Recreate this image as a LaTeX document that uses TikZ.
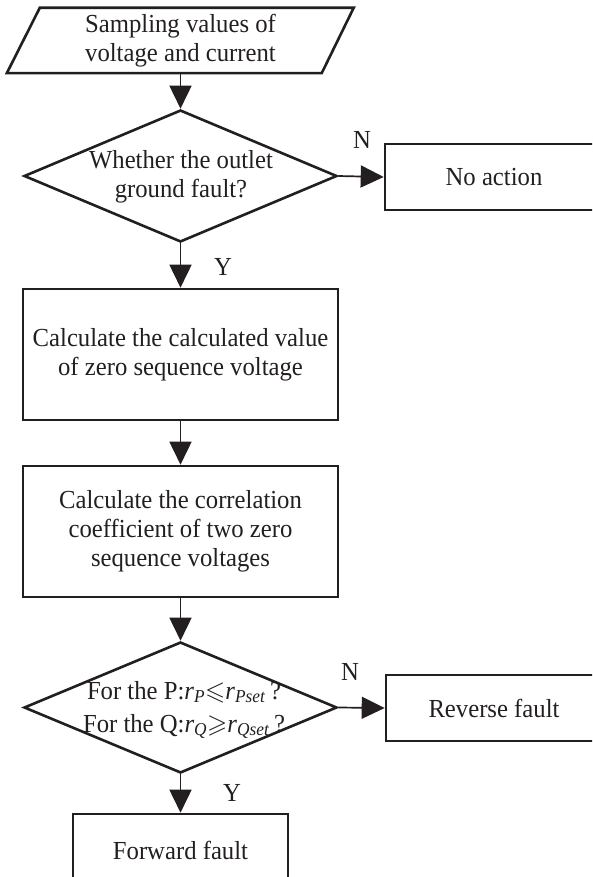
\documentclass[tikz,border=0pt]{standalone}
\usepackage{fontspec}
\setmainfont{Liberation Serif}[FakeStretch=0.95]
\usepackage{amssymb}
\usetikzlibrary{shapes.geometric,arrows.meta}
\definecolor{ink}{HTML}{231F20}
\begin{document}
\begin{tikzpicture}[x=1pt,y=-1pt,
  every node/.style={text=ink,font=\fontsize{26}{29}\selectfont},
  procbox/.style={draw=ink,line width=2.6pt,rectangle,inner sep=0pt,align=center},
  decision/.style={draw=ink,line width=2.6pt,diamond,inner sep=0pt,
                   minimum width=313pt,minimum height=132pt},
  flow/.style={draw=ink,line width=1.7pt,-{Triangle[length=23pt,width=22pt]}},
  tag/.style={inner sep=0pt}]
\useasboundingbox (0,0) rectangle (592,877);
\clip (0,0) rectangle (592,877);

% input parallelogram: text body plus slanted outline
\node[inner sep=0pt,minimum width=314pt,minimum height=65pt,align=center]
  (in) at (180.5,40.5) {Sampling values of\\voltage and current};
\draw[ink,line width=2.6pt,line join=miter]
  ([xshift=-16.5pt]in.south west) -- ([xshift=16.5pt]in.north west)
  -- ([xshift=16pt]in.north east) -- ([xshift=-16pt]in.south east) -- cycle;

% first decision
\node[decision] (d1) at (180.5,176) {};
\node[align=center] (d1t) at (181,177) {Whether the outlet\\ground fault?};

\node[procbox,minimum width=218pt,minimum height=66pt] (noact) at (494,177) {No action};

% processing steps
\node[procbox,minimum width=315pt,minimum height=131pt] (c1) at (180.5,354.5)
  {Calculate the calculated value\\of zero sequence voltage};
\node[procbox,minimum width=315pt,minimum height=131pt] (c2) at (180.5,531.5)
  {Calculate the correlation\\coefficient of two zero\\sequence voltages};

% second decision
\node[decision,minimum height=131pt] (d2) at (180.5,707.5) {};
\node[align=center,font=\fontsize{26}{33}\selectfont] (d2t) at (184,710)
  {For the P:\textit{r}\textsubscript{\textit{P}}$\leqslant$\textit{r}\textsubscript{\textit{Pset}}\,?\\
   For the Q:\textit{r}\textsubscript{\textit{Q}}$\geqslant$\textit{r}\textsubscript{\textit{Qset}}\,?};

\node[procbox,minimum width=216pt,minimum height=66pt] (rev) at (494,708) {Reverse fault};
\node[procbox,minimum width=215pt,minimum height=72pt] (fwd) at (180.5,850) {Forward fault};

% connectors
\draw[flow] (in.south) -- (d1.north);
\draw[flow] (d1.east) -- (noact.west);
\draw[flow] (d1.south) -- (c1.north);
\draw[flow] (c1.south) -- (c2.north);
\draw[flow] (c2.south) -- (d2.north);
\draw[flow] (d2.east) -- (rev.west);
\draw[flow] (d2.south) -- (fwd.north);

% branch labels
\node[tag] (n1) at (362,140) {N};
\node[tag] (y1) at (223,267) {Y};
\node[tag] (n2) at (350,672) {N};
\node[tag] (y2) at (232,793) {Y};
\end{tikzpicture}
\end{document}
